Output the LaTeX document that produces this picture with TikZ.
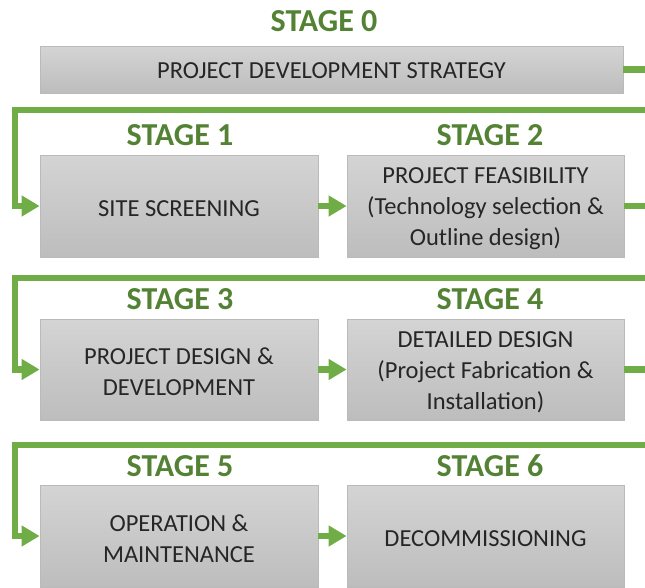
\documentclass[tikz,border=0pt]{standalone}
\usepackage{fontspec}
\setmainfont{Carlito}
\usetikzlibrary{arrows.meta}
\definecolor{flowgreen}{HTML}{70AD47}
\definecolor{stagegreen}{HTML}{548235}
\definecolor{boxtop}{HTML}{D4D4D4}
\definecolor{boxbottom}{HTML}{BDBDBD}
\definecolor{boxedge}{HTML}{BABABA}
\definecolor{boxtext}{HTML}{262626}
\begin{document}
\begin{tikzpicture}[x=1pt,y=-1pt,
  stagebox/.style={rectangle, inner sep=0pt, top color=boxtop, bottom color=boxbottom,
    draw=boxedge, line width=0.8pt},
  boxtext/.style={inner sep=0pt, text=boxtext, align=center,
    font=\fontsize{24.5}{31}\selectfont},
  stagelabel/.style={inner sep=0pt, text=stagegreen, font=\fontsize{32}{36}\selectfont\bfseries},
  flow/.style={draw=flowgreen, line width=6.5pt, line join=miter, line cap=butt,
    -{Triangle[length=18pt,width=20pt]}}]
\clip (0,0) rectangle (645,587);

% stage titles
\node[stagelabel] (t0) at (324,21) {STAGE 0};
\node[stagelabel] (t1) at (180,135) {STAGE 1};
\node[stagelabel] (t2) at (490,135) {STAGE 2};
\node[stagelabel] (t3) at (180,299) {STAGE 3};
\node[stagelabel] (t4) at (490,299) {STAGE 4};
\node[stagelabel] (t5) at (180,466) {STAGE 5};
\node[stagelabel] (t6) at (490,466) {STAGE 6};

% stage boxes
\node[stagebox, minimum width=583pt, minimum height=47pt] (s0) at (331.5,69.5) {};
\node[stagebox, minimum width=278pt, minimum height=102pt] (s1) at (179,206) {};
\node[stagebox, minimum width=277pt, minimum height=102pt] (s2) at (485.5,206) {};
\node[stagebox, minimum width=278pt, minimum height=101pt] (s3) at (179,369.5) {};
\node[stagebox, minimum width=277pt, minimum height=101pt] (s4) at (485.5,369.5) {};
\node[stagebox, minimum width=278pt, minimum height=102pt] (s5) at (179,536) {};
\node[stagebox, minimum width=277pt, minimum height=102pt] (s6) at (485.5,536) {};

% box captions
\node[boxtext] (c0) at ([yshift=-1pt]s0.center) {PROJECT DEVELOPMENT STRATEGY};
\node[boxtext] (c1) at ([yshift=-2.5pt]s1.center) {SITE SCREENING};
\node[boxtext] (c2) at ([yshift=-3pt]s2.center) {PROJECT FEASIBILITY\\(Technology selection \&\\Outline design)};
\node[boxtext] (c3) at ([yshift=-2.5pt]s3.center) {PROJECT DESIGN \&\\DEVELOPMENT};
\node[boxtext] (c4) at ([yshift=-3pt]s4.center) {DETAILED DESIGN\\(Project Fabrication \&\\Installation)};
\node[boxtext] (c5) at ([yshift=-2.5pt]s5.center) {OPERATION \&\\MAINTENANCE};
\node[boxtext] (c6) at ([yshift=-2.5pt]s6.center) {DECOMMISSIONING};

% return column beyond the right edge and left feed column
\coordinate (r0) at (665,110);
\coordinate (r1) at (665,278);
\coordinate (r2) at (665,445);
\coordinate (l0) at (15,110);
\coordinate (l1) at (15,278);
\coordinate (l2) at (15,445);

% row-to-row connectors
\draw[flow] (s0.east) -| (r0) -- (l0) |- (s1.west);
\draw[flow] (s2.east) -| (r1) -- (l1) |- (s3.west);
\draw[flow] (s4.east) -| (r2) -- (l2) |- (s5.west);

% in-row connectors
\draw[flow] (s1.east) -- (s2.west);
\draw[flow] (s3.east) -- (s4.west);
\draw[flow] (s5.east) -- (s6.west);
\end{tikzpicture}
\end{document}
